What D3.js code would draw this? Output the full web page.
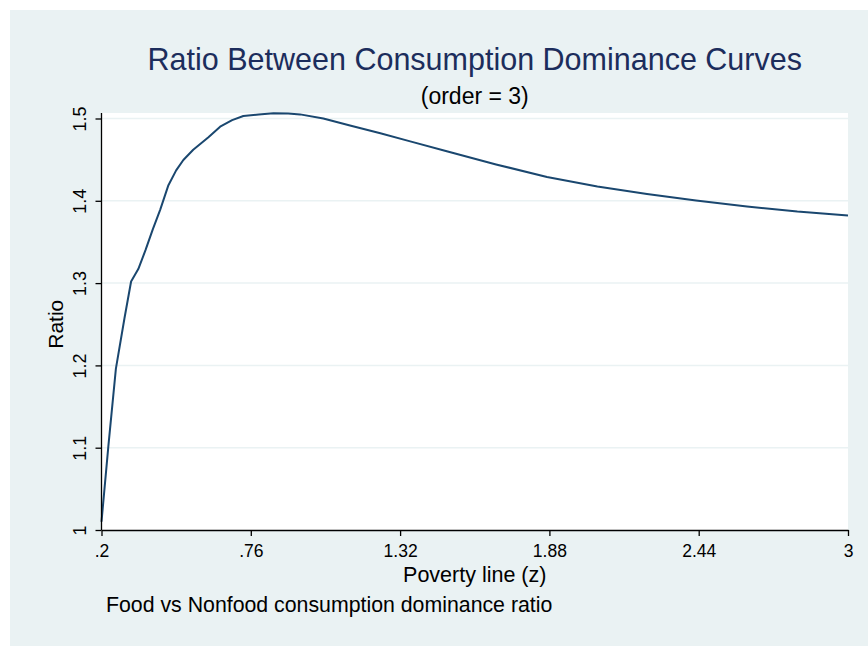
<!DOCTYPE html>
<html>
<head>
<meta charset="utf-8">
<script src="https://cdn.jsdelivr.net/npm/d3@7"></script>
<style>
  body { margin: 0; background: #fff; }
  text { font-family: "Liberation Sans", Arial, sans-serif; }
</style>
</head>
<body>
<script>
// values
const povertyLine = [0.2, 0.2255, 0.254, 0.286, 0.311, 0.338, 0.365, 0.392, 0.42, 0.451, 0.48, 0.507,
  0.544, 0.6, 0.645, 0.69, 0.732, 0.79, 0.845, 0.9, 0.945, 1.032, 1.132, 1.246, 1.358, 1.495,
  1.68, 1.871, 2.06, 2.246, 2.43, 2.621, 2.81, 3.0]
const ratio = [1.010, 1.101, 1.196, 1.257, 1.302, 1.317, 1.340, 1.365, 1.389, 1.419, 1.437, 1.4496,
  1.462, 1.477, 1.490, 1.498, 1.503, 1.505, 1.5063, 1.506, 1.505, 1.500, 1.4915, 1.482, 1.4722, 1.4603,
  1.4442, 1.4289, 1.4175, 1.4083, 1.4004, 1.3932, 1.3869, 1.382]
const xTicks = [0.2, 0.76, 1.32, 1.88, 2.44, 3]
const xTickLabels = ['.2', '.76', '1.32', '1.88', '2.44', '3']
const yTicks = [1, 1.1, 1.2, 1.3, 1.4, 1.5]
const yTickLabels = ['1', '1.1', '1.2', '1.3', '1.4', '1.5']

const W = 868
const H = 646
const margin = { top: 113, right: 20, bottom: 116, left: 101.5 }
const width = W - margin.left - margin.right
const height = H - margin.top - margin.bottom

const x = d3.scaleLinear()
	.domain([0.2, 3])
	.range([0, width])

// 1.5 sits a little below the top of the plot region
const y = d3.scaleLinear()
	.domain([1, 1.5])
	.range([height, 5.5])

const svg = d3.select('body').append('svg')
		.attr('width', W)
		.attr('height', H)

svg.append('rect')
		.attr('x', 10)
		.attr('y', 10)
		.attr('width', W - 10)
		.attr('height', H - 10)
		.attr('fill', '#eaf2f3')

const g = svg.append('g')
		.attr('transform', `translate(${margin.left}, ${margin.top})`)

g.append('rect')
		.attr('x', 0)
		.attr('y', 0)
		.attr('width', width)
		.attr('height', height)
		.attr('fill', '#fff')

// horizontal grid
g.selectAll('.grid')
		.data(yTicks.filter(d => d > 1))
	.enter().append('line')
		.attr('class', 'grid')
		.attr('x1', 0)
		.attr('x2', width)
		.attr('y1', d => y(d))
		.attr('y2', d => y(d))
		.attr('stroke', '#eaf2f3')
		.attr('stroke-width', 1.5)

const line = d3.line()
	.x((d, i) => x(povertyLine[i]))
	.y(d => y(d))

g.append('path')
		.datum(ratio)
		.attr('fill', 'none')
		.attr('stroke', '#1a476f')
		.attr('stroke-width', 2)
		.attr('stroke-linejoin', 'round')
		.attr('d', line)

// x axis
const xAxis = g.append('g')
		.attr('transform', `translate(0, ${height})`)
		.call(d3.axisBottom(x)
			.tickValues(xTicks)
			.tickFormat((d, i) => xTickLabels[i])
			.tickSize(6)
			.tickPadding(9)
			.tickSizeOuter(0))
xAxis.select('.domain').attr('stroke', '#000').attr('stroke-width', 1.3)
xAxis.selectAll('.tick line').attr('stroke', '#000').attr('stroke-width', 1.3)
xAxis.selectAll('.tick text')
		.attr('font-size', 17.5)
		.attr('font-family', '"Liberation Sans", Arial, sans-serif')
		.attr('fill', '#000')

// y axis
const yAxis = g.append('g')
		.call(d3.axisLeft(y)
			.tickValues(yTicks)
			.tickFormat((d, i) => yTickLabels[i])
			.tickSize(6)
			.tickSizeOuter(0))
yAxis.select('.domain').attr('stroke', '#000').attr('stroke-width', 1.3)
	.attr('d', `M0,0V${height}`)
yAxis.selectAll('.tick line').attr('stroke', '#000').attr('stroke-width', 1.3)
yAxis.selectAll('.tick text')
		.attr('font-size', 18)
		.attr('font-family', '"Liberation Sans", Arial, sans-serif')
		.attr('fill', '#000')
		.attr('x', null)
		.attr('dy', null)
		.attr('text-anchor', 'middle')
		.attr('transform', 'translate(-16, 0) rotate(-90)')

// titles
svg.append('text')
		.attr('x', margin.left + width / 2)
		.attr('y', 70)
		.attr('text-anchor', 'middle')
		.attr('font-size', 30.5)
		.attr('fill', '#1c2d5c')
		.text('Ratio Between Consumption Dominance Curves')

svg.append('text')
		.attr('x', margin.left + width / 2)
		.attr('y', 104)
		.attr('text-anchor', 'middle')
		.attr('font-size', 23)
		.attr('fill', '#000')
		.text('(order = 3)')

svg.append('text')
		.attr('x', margin.left + width / 2)
		.attr('y', 582)
		.attr('text-anchor', 'middle')
		.attr('font-size', 21.5)
		.attr('fill', '#000')
		.text('Poverty line (z)')

svg.append('text')
		.attr('transform', `translate(63, ${margin.top + y(1.25)}) rotate(-90)`)
		.attr('text-anchor', 'middle')
		.attr('font-size', 21)
		.attr('fill', '#000')
		.text('Ratio')

svg.append('text')
		.attr('x', 106)
		.attr('y', 612)
		.attr('font-size', 21.3)
		.attr('fill', '#000')
		.text('Food vs Nonfood consumption dominance ratio')
</script>
</body>
</html>
